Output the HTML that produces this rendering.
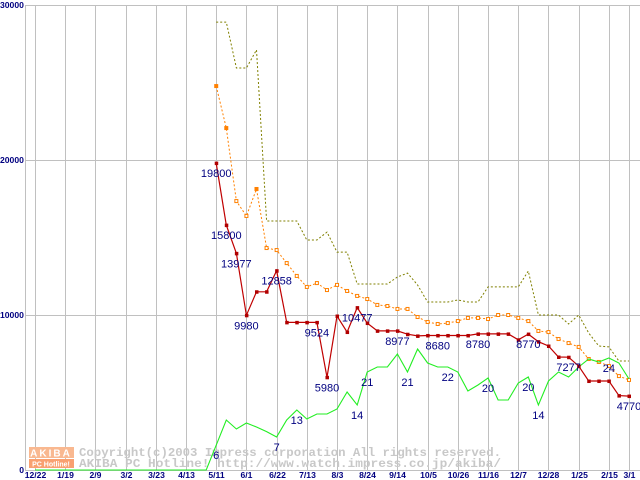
<!DOCTYPE html>
<html><head><meta charset="utf-8"><style>
html,body{margin:0;padding:0;background:#fff;}
svg{display:block;font-family:"Liberation Sans",sans-serif;}
</style></head><body>
<svg id="chart" width="640" height="480" viewBox="0 0 640 480" xmlns="http://www.w3.org/2000/svg">
<g id="grid"></g>
<g id="watermark">
  <rect x="29" y="447" width="45" height="11" fill="#f9b890"/>
  <text x="51" y="456.5" font-size="10" font-weight="bold" fill="#fff" text-anchor="middle" letter-spacing="2">AKIBA</text>
  <rect x="29" y="459" width="45" height="9" fill="#f9a070"/>
  <text x="51" y="466.5" font-size="7" font-weight="bold" fill="#fff" text-anchor="middle">PC Hotline!</text>
  <text x="79" y="456" font-family="Liberation Mono,monospace" font-size="12" font-weight="bold" fill="#c8c8c8" textLength="422" lengthAdjust="spacingAndGlyphs">Copyright(c)2003 Impress corporation All rights reserved.</text>
  <text x="79" y="467" font-family="Liberation Mono,monospace" font-size="12" font-weight="bold" fill="#c8c8c8" textLength="422" lengthAdjust="spacingAndGlyphs">AKIBA PC Hotline! http://www.watch.impress.co.jp/akiba/</text>
</g>
<g id="series"></g>
<g id="labels"></g>
</svg>
<script>
const xTickLabels = ["12/22","1/19","2/9","3/2","3/23","4/13","5/11","6/1","6/22","7/13","8/3","8/24","9/14","10/5","10/26","11/16","12/7","12/28","1/25","2/15","3/1"];
const xTickIndex = [0,3,6,9,12,15,18,21,24,27,30,33,36,39,42,45,48,51,54,57,59];
const yTicks = [0,10000,20000,30000];
const dataStart = 18;
const lowPrice = [19800,15800,13977,9980,11500,11500,12858,9524,9524,9524,9524,5980,9935,8900,10477,9480,8977,8977,8977,8760,8650,8680,8680,8680,8680,8680,8780,8780,8780,8780,8400,8770,8280,8000,7290,7277,6700,5740,5740,5740,4800,4770];
const avgPrice = [24770,22060,17350,16390,18130,14320,14190,13350,12520,11810,12060,11610,11940,11550,11230,11030,10650,10580,10390,10390,9870,9550,9420,9480,9610,9810,9810,9740,10000,10000,9810,9610,8970,8900,8450,8190,7940,7160,6970,6710,6060,5810];
const highPrice = [28900,28900,25935,25935,27100,16065,16065,16065,16065,14840,14840,15350,14060,14060,12000,12000,12000,12000,12450,12700,11935,10840,10840,10840,10970,10840,10840,11810,11810,11810,11810,12840,10000,10000,10000,9420,10000,8840,8000,7940,7030,7030];
const shopLine = [0,0,0,0,0,0,0,0,0,0,0,0,0,0,0,0,0,0,1600,3226,2645,3032,2774,2477,2129,3226,3871,3290,3613,3613,3935,5032,4194,6323,6645,6645,7484,6323,7806,6903,6645,6645,6323,5097,5484,5935,4516,4516,5613,6000,4194,5742,6323,6000,6645,7161,6968,7226,6903,5871];
const lowLabelIdx = [0,1,2,3,6,10,11,14,18,22,26,31,35,41];
const shopLabelIdx = [18,24,26,32,33,37,41,45,49,50,57];
const shopLabelText = ["6","7","13","14","21","21","22","20","20","14","24"];

const NS="http://www.w3.org/2000/svg";
const X0=35, X1=629, NPTS=60, L=25, R=640, T=5, B=470, YMAX=30000;
function xs(k){return X0+k*(X1-X0)/(NPTS-1);}
function ys(v){return B-v*(B-T)/YMAX;}
function mk(tag,attrs,parent){const e=document.createElementNS(NS,tag);for(const k in attrs)e.setAttribute(k,attrs[k]);parent.appendChild(e);return e;}
const grid=document.getElementById('grid'), ser=document.getElementById('series'), lab=document.getElementById('labels');

yTicks.forEach(v=>{
  const y=Math.round(ys(v))+0.5;
  const ln=mk('line',{x1:L,x2:R,y1:y,y2:y,stroke:'#c0c0c0','stroke-width':1},grid);
  
  
  const t=mk('text',{x:v===0?24:0,y:ys(v)+3,'font-size':8.6,'font-weight':'bold',fill:'#000080','text-anchor':v===0?'end':'start'},grid);
  t.textContent=String(v);
  
  
});
const ax=mk('line',{x1:L+0.5,x2:L+0.5,y1:T,y2:B,stroke:'#c0c0c0','stroke-width':1},grid);


xTickIndex.forEach((k,i)=>{
  const x=Math.round(xs(k))+0.5;
  const ln=mk('line',{x1:x,x2:x,y1:T,y2:B,stroke:'#c0c0c0','stroke-width':1},grid);
  
  
  const t=mk('text',{x:x,y:478,'font-size':8.6,'font-weight':'bold',fill:'#000080','text-anchor':'middle'},grid);
  t.textContent=xTickLabels[i];
  
  
});

function pts(arr,off){return arr.map((v,i)=>xs(i+off).toFixed(1)+','+ys(v).toFixed(1)).join(' ');}
const g1=mk('polyline',{points:pts(highPrice,dataStart),fill:'none',stroke:'#808000','stroke-width':1,'stroke-dasharray':'2,2'},ser);


const g2=mk('polyline',{points:pts(avgPrice,dataStart),fill:'none',stroke:'#ff8000','stroke-width':1,'stroke-dasharray':'2,2'},ser);


avgPrice.forEach((v,i)=>{
  const r=mk('rect',{x:xs(i+dataStart)-1.5,y:ys(v)-1.5,width:3,height:3,fill:i<2||i===4?'#ff8000':'#fff',stroke:'#ff8000','stroke-width':1},ser);
  
  
});
const g3=mk('polyline',{points:pts(shopLine,0),fill:'none',stroke:'#22ee22','stroke-width':1.1},ser);


const g4=mk('polyline',{points:pts(lowPrice,dataStart),fill:'none',stroke:'#c00000','stroke-width':1.2},ser);


lowPrice.forEach((v,i)=>{
  const r=mk('rect',{x:xs(i+dataStart)-1.5,y:ys(v)-1.5,width:3.5,height:3.5,fill:'#b00000'},ser);
  
  
});
lowLabelIdx.forEach(i=>{
  const t=mk('text',{x:xs(i+dataStart),y:ys(lowPrice[i])+14,'font-size':11,fill:'#000080','text-anchor':'middle'},lab);
  t.textContent=String(lowPrice[i]);
  
  
});
shopLabelIdx.forEach((k,j)=>{
  const t=mk('text',{x:xs(k),y:ys(shopLine[k])+14,'font-size':11,fill:'#000080','text-anchor':'middle'},lab);
  t.textContent=shopLabelText[j];
  
  
});
</script>
</body></html>
